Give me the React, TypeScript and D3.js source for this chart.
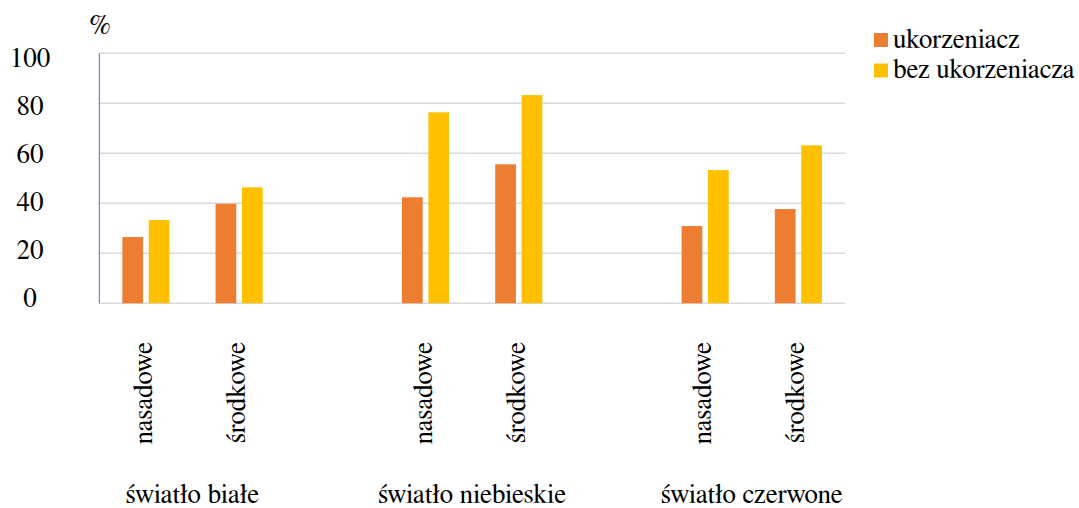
import React from "react";
import * as d3 from "d3";

const slotLabels = ["nasadowe", "środkowe", "", "nasadowe", "środkowe", "", "nasadowe", "środkowe"];
const ukorzeniacz: (number | null)[] = [26.5, 39.8, null, 42.4, 55.6, null, 30.9, 37.7];
const bezUkorzeniacza: (number | null)[] = [33.3, 46.4, null, 76.4, 83.3, null, 53.3, 63.2];
const groupLabels = ["światło białe", "światło niebieskie", "światło czerwone"];
const groupSlots = [[0, 1], [3, 4], [6, 7]];
const seriesNames = ["ukorzeniacz", "bez ukorzeniacza"];
const seriesColors = ["#ED7D31", "#FFC000"];
const yTicks = [0, 20, 40, 60, 80, 100];

const W = 1079;
const H = 508;
const ts = { fontFamily: "FreeSerif", fontSize: "27px" };

export default function App() {
  const slots = slotLabels.map((_, i) => String(i));
  const x0 = d3.scaleBand<string>().domain(slots).range([99.3, 845]).padding(0);
  const x1 = d3
    .scaleBand<string>()
    .domain(seriesNames)
    .range([0, x0.bandwidth()])
    .paddingInner(0.216)
    .paddingOuter(0.873);
  const y = d3.scaleLinear().domain([0, 100]).range([303.3, 53.3]);
  const yLab = d3.scaleLinear().domain([0, 100]).range([306.7, 66.7]);
  const seriesData = [ukorzeniacz, bezUkorzeniacza];

  return (
    <svg width={W} height={H} style={{ position: "absolute", left: 0, top: 0 }}>
      <rect x={0} y={0} width={W} height={H} fill="#fff" />
      {yTicks.map((t) => (
        <line key={"g" + t} x1={99.3} x2={845} y1={y(t)} y2={y(t)} stroke="#D9D9D9" strokeWidth={1.5} />
      ))}
      <line x1={99.3} x2={99.3} y1={y(100)} y2={y(0)} stroke="#4472C4" strokeWidth={1} />
      {yTicks.map((t) => (
        <text key={"l" + t} x={30} y={yLab(t)} textAnchor="middle" style={ts} fill="#000">
          {t}
        </text>
      ))}
      <text x={100} y={34} textAnchor="middle" style={ts} fill="#000">%</text>
      {seriesData.map((vals, si) =>
        vals.map((v, i) =>
          v == null ? null : (
            <rect
              key={si + "-" + i}
              x={(x0(String(i)) as number) + (x1(seriesNames[si]) as number)}
              y={y(v)}
              width={x1.bandwidth()}
              height={y(0) - y(v)}
              fill={seriesColors[si]}
            />
          )
        )
      )}
      {slotLabels.map((lab, i) => {
        if (!lab) return null;
        const cx = (x0(String(i)) as number) + x0.bandwidth() / 2 + 6;
        return (
          <text
            key={"s" + i}
            transform={`translate(${cx},342) rotate(-90)`}
            textAnchor="end"
            style={ts}
            fill="#000"
          >
            {lab}
          </text>
        );
      })}
      {groupLabels.map((g, gi) => {
        const [a, b] = groupSlots[gi];
        const cx = ((x0(String(a)) as number) + (x0(String(b)) as number) + x0.bandwidth()) / 2;
        return (
          <text key={"gr" + gi} x={cx} y={503} textAnchor="middle" style={ts} fill="#000">
            {g}
          </text>
        );
      })}
      {seriesNames.map((s, si) => (
        <g key={"lg" + si}>
          <rect x={874} y={33 + si * 30.5} width={14} height={14} fill={seriesColors[si]} />
          <text x={893} y={47.5 + si * 30.5} style={ts} fill="#000">
            {s}
          </text>
        </g>
      ))}
    </svg>
  );
}
